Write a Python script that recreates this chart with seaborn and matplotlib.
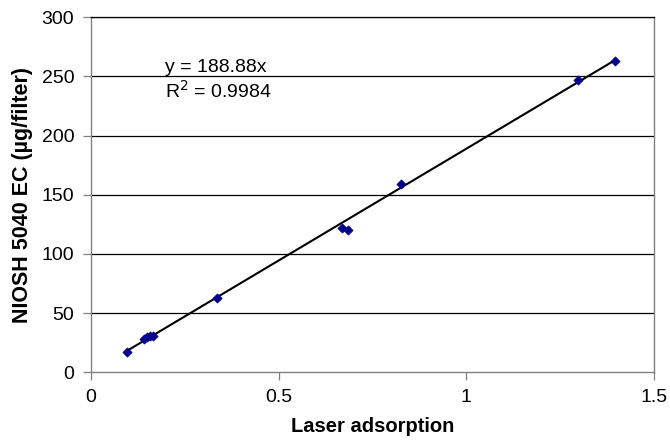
import matplotlib
matplotlib.use("Agg")
import matplotlib.pyplot as plt
import numpy as np
import pandas as pd
import seaborn as sns

# Values
laser_adsorption = [0.096, 0.140, 0.150, 0.157, 0.165, 0.336, 0.669, 0.685, 0.826, 1.298, 1.396]
niosh_ec = [17, 28, 30, 31, 31, 63, 122, 120, 159.5, 247, 263]
SLOPE = 188.88
R2 = 0.9984
y_ticks = [0, 50, 100, 150, 200, 250, 300]
x_ticks = [0, 0.5, 1, 1.5]
x_tick_labels = ["0", "0.5", "1", "1.5"]

df = pd.DataFrame({"x": laser_adsorption, "y": niosh_ec})

sns.set_style("white", {"text.color": "black", "axes.labelcolor": "black",
                        "xtick.color": "black", "ytick.color": "black"})
plt.rcParams["font.family"] = ["Liberation Sans", "DejaVu Sans"]

fig = plt.figure(figsize=(6.7, 4.44), dpi=100)
ax = fig.add_axes([0.1358, 0.1615, 0.840, 0.7995])

# horizontal gridlines
for yv in y_ticks[1:]:
    ax.axhline(yv, color="black", lw=0.9, zorder=1)

# trend line over the data range (through origin)
xs = np.array([min(laser_adsorption), max(laser_adsorption)])
ax.plot(xs, SLOPE * xs, color="black", lw=1.5, zorder=2)

sns.scatterplot(data=df, x="x", y="y", ax=ax, marker="D", s=22,
                color="#00008B", edgecolor="#00008B", linewidth=0.5, zorder=3)

ax.text(0.197, 258, "y = 188.88x", fontsize=14, va="center", ha="left", color="black")
ax.text(0.197, 237.5, "R$^2$ = %.4f" % R2, fontsize=14, va="center", ha="left", color="black")

ax.set_xlim(0, 1.5)
ax.set_ylim(0, 300)
ax.set_xticks(x_ticks)
ax.set_xticklabels(x_tick_labels)
ax.set_yticks(y_ticks)
ax.tick_params(axis="both", direction="out", length=6, width=0.9, color="#808080",
               labelcolor="black", labelsize=14, pad=6, left=True, bottom=True)

for side in ["left", "bottom", "right"]:
    ax.spines[side].set_color("#808080")
    ax.spines[side].set_linewidth(1.0)
ax.spines["top"].set_color("black")
ax.spines["top"].set_linewidth(0.9)

ax.set_xlabel("Laser adsorption", fontsize=14.5, fontweight="bold", labelpad=8, color="black")
ax.set_ylabel("NIOSH 5040 EC (\u00b5g/filter)", fontsize=15.5, fontweight="bold", labelpad=6,
              color="black")

fig.savefig("out.png", dpi=100)
